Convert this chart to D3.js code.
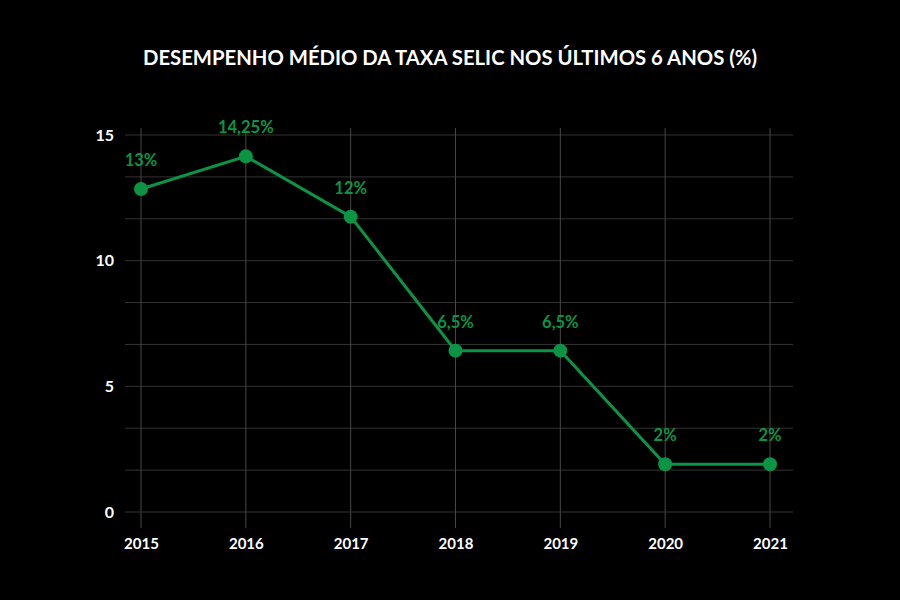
<!DOCTYPE html>
<html>
<head>
<meta charset="utf-8">
<script src="https://cdn.jsdelivr.net/npm/d3@7"></script>
<style>
  html, body { margin: 0; padding: 0; background: #000; }
  #chart { width: 900px; height: 600px; }
  text { font-family: Lato, sans-serif; }
</style>
</head>
<body>
<div id="chart"></div>
<script>
const years = [2015, 2016, 2017, 2018, 2019, 2020, 2021];
const selic = [12.85, 14.15, 11.75, 6.42, 6.42, 1.9, 1.9];
const labels = ["13%", "14,25%", "12%", "6,5%", "6,5%", "2%", "2%"];
const yTicks = [0, 5, 10, 15];

const width = 900, height = 600;
const green = "#0b9444";
const font = "Lato, sans-serif";

const svg = d3.select("#chart").append("svg")
    .attr("width", width).attr("height", height);

svg.append("rect").attr("width", width).attr("height", height).attr("fill", "#000");

svg.append("text")
    .attr("x", 450).attr("y", 65)
    .attr("text-anchor", "middle")
    .attr("fill", "#fff")
    .attr("font-size", 20.3)
    .attr("font-weight", 700)
    .text("DESEMPENHO MÉDIO DA TAXA SELIC NOS ÚLTIMOS 6 ANOS (%)");

const x = d3.scaleLinear().domain([2015, 2021]).range([141, 770]);
const y = d3.scaleLinear().domain([0, 15]).range([512, 135]);

// horizontal grid every 5/3
const gridVals = d3.range(0, 10).map(i => i * 5 / 3);
svg.append("g").selectAll("line")
    .data(gridVals).enter().append("line")
    .attr("x1", 125).attr("x2", 793)
    .attr("y1", d => y(d)).attr("y2", d => y(d))
    .attr("stroke", "#333").attr("stroke-width", 1);

// vertical grid
svg.append("g").selectAll("line")
    .data(years).enter().append("line")
    .attr("x1", d => x(d)).attr("x2", d => x(d))
    .attr("y1", 128).attr("y2", 528)
    .attr("stroke", "#474747").attr("stroke-width", 1);

// y axis labels
const yAxis = svg.append("g").attr("transform", "translate(114,0)")
    .call(d3.axisLeft(y).tickValues(yTicks).tickSize(0).tickPadding(0));
yAxis.select(".domain").remove();
yAxis.selectAll("text")
    .attr("fill", "#fff").attr("font-size", 16).attr("font-weight", 700)
    .attr("font-family", font);

// x axis labels
const xAxis = svg.append("g").attr("transform", "translate(0,538)")
    .call(d3.axisBottom(x).tickValues(years).tickFormat(d3.format("d")).tickSize(0).tickPadding(0));
xAxis.select(".domain").remove();
xAxis.selectAll("text")
    .attr("fill", "#fff").attr("font-size", 15).attr("font-weight", 700)
    .attr("font-family", font);

const pts = years.map((yr, i) => ({ year: yr, value: selic[i], label: labels[i] }));

svg.append("path")
    .datum(pts)
    .attr("fill", "none")
    .attr("stroke", green)
    .attr("stroke-width", 3)
    .attr("d", d3.line().x(d => x(d.year)).y(d => y(d.value)));

svg.append("g").selectAll("circle")
    .data(pts).enter().append("circle")
    .attr("cx", d => x(d.year)).attr("cy", d => y(d.value))
    .attr("r", 7).attr("fill", green);

svg.append("g").selectAll("text")
    .data(pts).enter().append("text")
    .attr("x", d => x(d.year)).attr("y", d => y(d.value) - 23)
    .attr("text-anchor", "middle")
    .attr("fill", green)
    .attr("font-size", 16.5)
    .attr("font-weight", 700)
    .text(d => d.label);
</script>
</body>
</html>
